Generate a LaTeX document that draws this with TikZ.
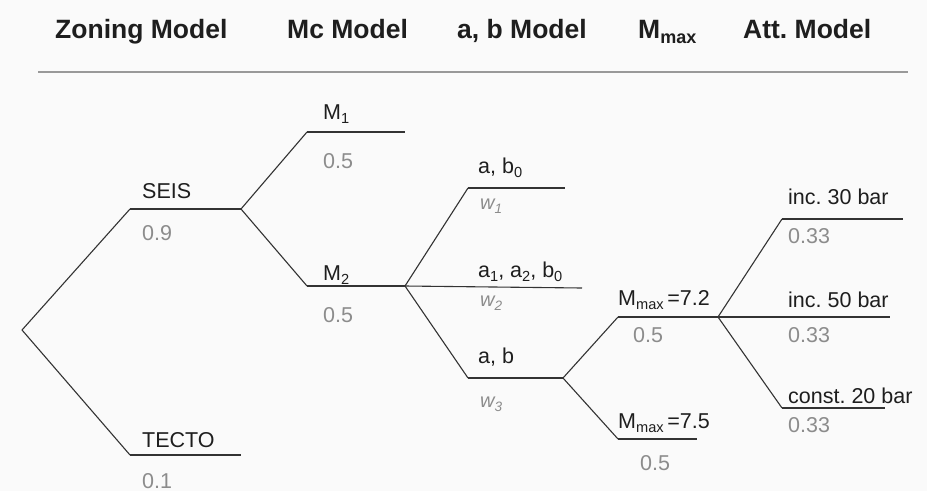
\documentclass[tikz,border=0pt]{standalone}
\usepackage{fontspec}
\setmainfont{Liberation Sans}
\definecolor{inkc}{HTML}{1E1E1E}
\definecolor{wgtc}{HTML}{8C8C8C}
\definecolor{branchc}{HTML}{333333}
\definecolor{paperc}{HTML}{FAFAFA}
\newcommand\lowidx[1]{\raisebox{-0.42ex}{\fontsize{0.68em}{1em}\selectfont #1}}
\frenchspacing
\begin{document}
\begin{tikzpicture}[x=1pt,y=-1pt,
  head/.style={anchor=base west,inner sep=0pt,text=inkc,font=\fontsize{26.5}{30}\selectfont\bfseries},
  lbl/.style={anchor=base west,inner sep=0pt,text=inkc,font=\fontsize{21.5}{24}\selectfont},
  wgt/.style={anchor=base west,inner sep=0pt,text=wgtc,font=\fontsize{21.5}{24}\selectfont},
  wgti/.style={anchor=base west,inner sep=0pt,text=wgtc,font=\fontsize{20}{24}\selectfont\itshape},
  branch/.style={draw=branchc,line width=1.1pt},
  level/.style={draw=branchc,line width=1.1pt}]
% page
\fill[paperc] (0,0) rectangle (927,491);
\useasboundingbox (0,0) rectangle (927,491);

% column headings
\node[head] (h1) at (55,38) {Zoning Model};
\node[head] (h2) at (287,38) {Mc Model};
\node[head] (h3) at (457,38) {a, b Model};
\node[head] (h4) at (638,38) {M\lowidx{max}};
\node[head] (h5) at (743,38) {Att. Model};
\coordinate (rl) at (38,72);
\coordinate (rr) at (908,72);
\draw[draw=gray!80,line width=1.3pt] (rl) -- (rr);

% branch points and level ends
\coordinate (root) at (22,330);
\coordinate (seisA) at (130,209);  \coordinate (seisB) at (241,209);
\coordinate (tecA) at (130,455);   \coordinate (tecB) at (241,455);
\coordinate (m1A) at (307,132);    \coordinate (m1B) at (405,132);
\coordinate (m2A) at (307,286);    \coordinate (m2B) at (405,286);
\coordinate (abzA) at (468,188);   \coordinate (abzB) at (565,188);
\coordinate (aabB) at (582,288);
\coordinate (abA) at (468,378);    \coordinate (abB) at (563,378);
\coordinate (mxaA) at (618,317);   \coordinate (mxaB) at (718,317);
\coordinate (mxbA) at (618,439);   \coordinate (mxbB) at (697,439);
\coordinate (i30A) at (782,219);   \coordinate (i30B) at (903,219);
\coordinate (i50B) at (890,317);
\coordinate (c20A) at (782,408);   \coordinate (c20B) at (885,408);

% zoning model
\draw[branch] (root) -- (seisA);
\draw[branch] (root) -- (tecA);
\draw[level] (seisA) -- (seisB);
\draw[level] (tecA) -- (tecB);
% Mc model
\draw[branch] (seisB) -- (m1A);
\draw[branch] (seisB) -- (m2A);
\draw[level] (m1A) -- (m1B);
\draw[level] (m2A) -- (m2B);
% a, b model
\draw[branch] (m2B) -- (abzA);
\draw[branch] (m2B) -- (aabB);
\draw[branch] (m2B) -- (abA);
\draw[level] (abzA) -- (abzB);
\draw[level] (abA) -- (abB);
% Mmax
\draw[branch] (abB) -- (mxaA);
\draw[branch] (abB) -- (mxbA);
\draw[level] (mxaA) -- (mxaB);
\draw[level] (mxbA) -- (mxbB);
% attenuation model
\draw[branch] (mxaB) -- (i30A);
\draw[branch] (mxaB) -- (i50B);
\draw[branch] (mxaB) -- (c20A);
\draw[level] (i30A) -- (i30B);
\draw[level] (c20A) -- (c20B);

% branch labels and weights
\node[lbl] (tseis) at (142,198) {SEIS};
\node[wgt] (wseis) at (142,240) {0.9};
\node[lbl] (ttec) at (142,447) {TECTO};
\node[wgt] (wtec) at (142,488) {0.1};

\node[lbl] (tm1) at (323,119) {M\lowidx{1}};
\node[wgt] (wm1) at (323,168) {0.5};
\node[lbl] (tm2) at (323,280) {M\lowidx{2}};
\node[wgt] (wm2) at (323,322) {0.5};

\node[lbl] (tabz) at (478,173) {a, b\lowidx{0}};
\node[wgti] (wabz) at (480,209) {w\lowidx{1}};
\node[lbl] (taab) at (478,277) {a\lowidx{1}, a\lowidx{2}, b\lowidx{0}};
\node[wgti] (waab) at (480,306) {w\lowidx{2}};
\node[lbl] (tab) at (478,363) {a, b};
\node[wgti] (wab) at (480,407) {w\lowidx{3}};

\node[lbl] (tmxa) at (618,305) {M\lowidx{max}\,=7.2};
\node[wgt] (wmxa) at (633,342) {0.5};
\node[lbl] (tmxb) at (618,428) {M\lowidx{max}\,=7.5};
\node[wgt] (wmxb) at (640,470) {0.5};

\node[lbl] (ti30) at (788,204) {inc. 30 bar};
\node[wgt] (wi30) at (788,243) {0.33};
\node[lbl] (ti50) at (788,307) {inc. 50 bar};
\node[wgt] (wi50) at (788,342) {0.33};
\node[lbl] (tc20) at (788,403) {const. 20 bar};
\node[wgt] (wc20) at (788,432) {0.33};
\end{tikzpicture}
\end{document}
